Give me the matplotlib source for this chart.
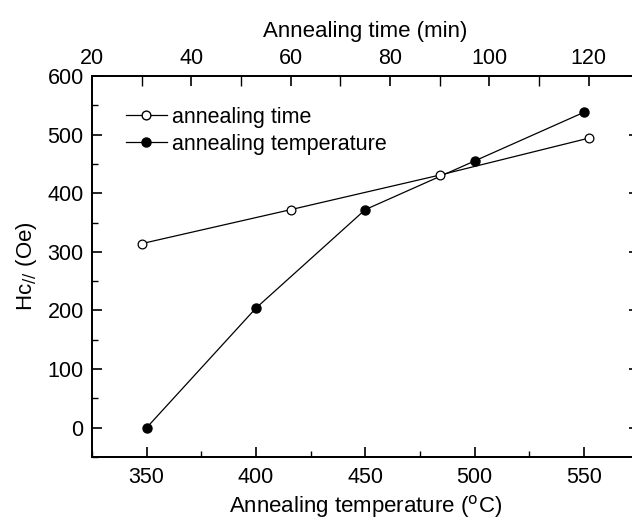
import matplotlib
matplotlib.use("Agg")
import matplotlib.pyplot as plt
from matplotlib.ticker import MultipleLocator
from matplotlib.lines import Line2D

plt.rcParams['font.family'] = ['Liberation Sans', 'DejaVu Sans']

# Data
temperature = [350, 400, 450, 500, 550]          # °C (bottom axis)
hc_temperature = [0, 204, 372, 455, 538]          # Oe
time_min = [30, 60, 90, 120]                       # min (top axis)
hc_time = [314, 372, 431, 494]                     # Oe

fig = plt.figure(figsize=(6.32, 5.22), dpi=100)
ax = fig.add_axes([92/632, 1-457/522, (638.5-92)/632, (457-76)/522])
ax2 = ax.twiny()

lw = 0.9
ax.plot(temperature, hc_temperature, '-', color='black', lw=lw,
        marker='o', ms=6.5, mfc='black', mec='black', zorder=3)
ax2.plot(time_min, hc_time, '-', color='black', lw=lw,
         marker='o', ms=6.3, mfc='white', mec='black', mew=0.9, zorder=3)

ax.set_xlim(325, 575)
ax2.set_xlim(20, 130)
ax.set_ylim(-50, 600)

ax.xaxis.set_major_locator(MultipleLocator(50))
ax.xaxis.set_minor_locator(MultipleLocator(25))
ax.yaxis.set_major_locator(MultipleLocator(100))
ax.yaxis.set_minor_locator(MultipleLocator(50))
ax2.xaxis.set_major_locator(MultipleLocator(20))
ax2.xaxis.set_minor_locator(MultipleLocator(10))

fs = 15.5
for a in (ax, ax2):
    for s in a.spines.values():
        s.set_linewidth(1.3)
ax.tick_params(axis='both', which='major', direction='in', length=7, width=1.2,
               labelsize=fs, right=True, top=False)
ax.tick_params(axis='both', which='minor', direction='in', length=4, width=1.0,
               right=True, top=False)
ax.tick_params(axis='x', which='major', pad=7)
ax.tick_params(axis='y', which='major', pad=6)
ax.tick_params(axis='y', which='both', labelright=False)
ax2.tick_params(axis='x', which='major', direction='in', length=7, width=1.2,
                labelsize=fs, pad=5)
ax2.tick_params(axis='x', which='minor', direction='in', length=7, width=1.0)

ax.set_xlabel('Annealing temperature ($^{\\mathrm{o}}$C)', fontsize=fs+0.5, labelpad=4)
ax2.set_xlabel('Annealing time (min)', fontsize=fs+0.5, labelpad=8)
ax.set_ylabel('Hc$_{//}$ (Oe)', fontsize=fs+0.5, labelpad=6)

h1 = Line2D([], [], color='black', lw=lw, marker='o', ms=6.3, mfc='white', mec='black')
h2 = Line2D([], [], color='black', lw=lw, marker='o', ms=6.5, mfc='black', mec='black')
ax2.legend([h1, h2], ['annealing time', 'annealing temperature'],
           loc='upper left', bbox_to_anchor=(0.03, 0.965), frameon=False,
           fontsize=fs, handlelength=1.9, handletextpad=0.25, labelspacing=0.3,
           borderaxespad=0.4)

fig.savefig('out.png', dpi=100)
